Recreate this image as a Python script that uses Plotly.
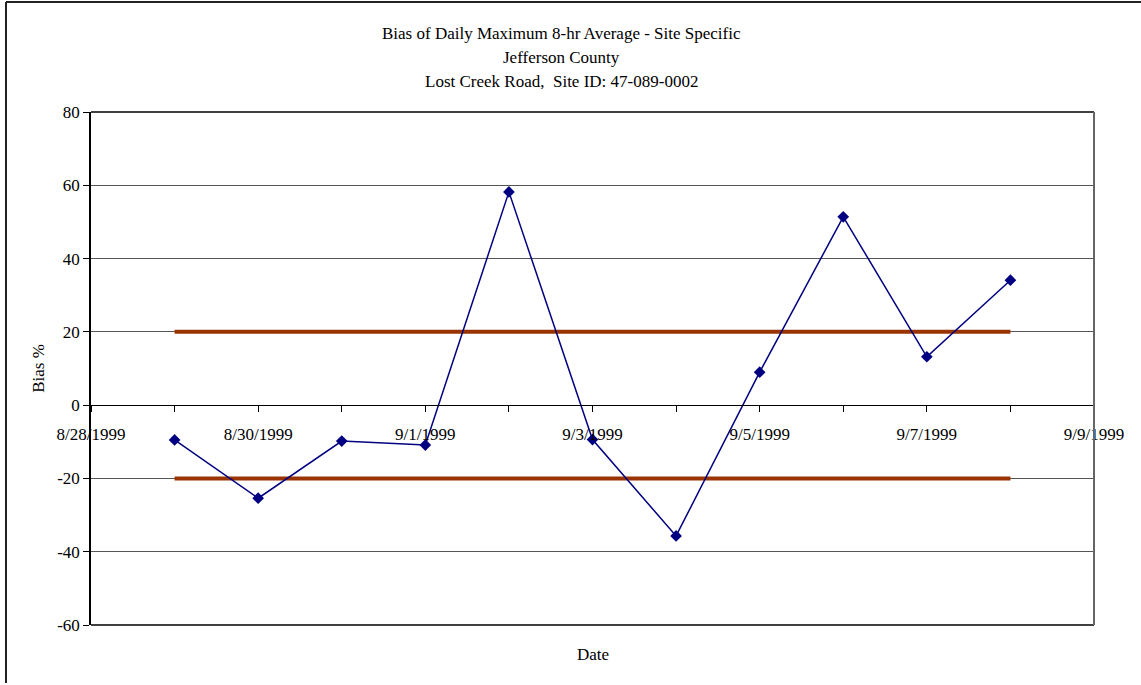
import plotly.graph_objects as go

# Daily bias of the maximum 8-hr average ozone, Lost Creek Road
dates = ["1999-08-29", "1999-08-30", "1999-08-31", "1999-09-01", "1999-09-02",
         "1999-09-03", "1999-09-04", "1999-09-05", "1999-09-06", "1999-09-07",
         "1999-09-08"]
bias = [-9.5, -25.4, -9.8, -10.9, 58.2, -9.4, -35.7, 9.0, 51.4, 13.2, 34.1]

# Acceptance limits (+/- 20 %)
limit_dates = ["1999-08-29", "1999-09-08"]
upper_limit = [20, 20]
lower_limit = [-20, -20]

y_ticks = [-60, -40, -20, 0, 20, 40, 60, 80]
y_tick_labels = ["-60", "-40", "-20", "0", "20", "40", "60", "80"]

title_lines = ["Bias of Daily Maximum 8-hr Average - Site Specific",
               "Jefferson County",
               "Lost Creek Road,  Site ID: 47-089-0002"]

FONT = "Liberation Serif, Times New Roman, serif"
FS = 17
W, H = 1141, 685
L, R, T, B = 91, 47, 112, 60

fig = go.Figure()

fig.add_trace(go.Scatter(x=limit_dates, y=upper_limit, mode="lines",
                         line=dict(color="#993300", width=4), showlegend=False))
fig.add_trace(go.Scatter(x=limit_dates, y=lower_limit, mode="lines",
                         line=dict(color="#993300", width=4), showlegend=False))
fig.add_trace(go.Scatter(x=dates, y=bias, mode="lines+markers",
                         line=dict(color="#000080", width=1.5),
                         marker=dict(symbol="diamond", size=9, color="#000080"),
                         showlegend=False))

ymin, ymax = -60, 80
zero_pos = (0 - ymin) / (ymax - ymin)

fig.update_layout(
    width=W, height=H,
    margin=dict(l=L, r=R, t=T, b=B),
    paper_bgcolor="white", plot_bgcolor="white",
    font=dict(family=FONT, size=FS, color="black"),
    xaxis=dict(
        type="date",
        range=["1999-08-28", "1999-09-09"],
        tick0="1999-08-28", dtick=2 * 86400000,
        tickformat="%-m/%-d/%Y",
        ticks="outside", ticklen=6, tickcolor="black",
        minor=dict(dtick=86400000, ticks="outside", ticklen=6, tickcolor="black"),
        showgrid=False, zeroline=False,
        showline=True, linecolor="black", linewidth=1,
        anchor="free", position=zero_pos,
        tickfont=dict(family=FONT, size=FS),
        ticklabelstandoff=7,
    ),
    yaxis=dict(
        range=[ymin, ymax],
        tickvals=y_ticks, ticktext=y_tick_labels,
        ticks="outside", ticklen=6, tickcolor="black",
        showgrid=True, gridcolor="#555555", gridwidth=1,
        zeroline=False,
        showline=True, linecolor="black", linewidth=1.5,
        tickfont=dict(family=FONT, size=FS),
        title=dict(text="Bias %", font=dict(family=FONT, size=FS), standoff=8),
    ),
    shapes=[
        # plot area frame
        dict(type="line", xref="paper", yref="paper", x0=0, x1=1, y0=1, y1=1,
             line=dict(color="black", width=1.5)),
        dict(type="line", xref="paper", yref="paper", x0=0, x1=1, y0=0, y1=0,
             line=dict(color="black", width=1.5)),
        dict(type="line", xref="paper", yref="paper", x0=1, x1=1, y0=0, y1=1,
             line=dict(color="#666666", width=2)),
        # chart frame (left and top edges)
        dict(type="line", xref="paper", yref="paper",
             x0=-(L - 6) / (W - L - R), x1=-(L - 6) / (W - L - R),
             y0=-(H - T - 2) / (H - T - B) + 1, y1=1 + (T - 2) / (H - T - B),
             line=dict(color="#222222", width=2)),
        dict(type="line", xref="paper", yref="paper",
             x0=-(L - 6) / (W - L - R), x1=1 + R / (W - L - R),
             y0=1 + (T - 2) / (H - T - B), y1=1 + (T - 2) / (H - T - B),
             line=dict(color="#222222", width=2)),
    ],
)

# Title block and x-axis title
title_x = (561 - L) / (W - L - R)
for line, ypix in zip(title_lines, [33, 57, 81]):
    fig.add_annotation(text=line, xref="paper", yref="paper",
                       x=title_x, y=1 + (T - ypix) / (H - T - B),
                       showarrow=False, xanchor="center", yanchor="middle",
                       font=dict(family=FONT, size=FS))

fig.add_annotation(text="Date", xref="paper", yref="paper",
                   x=0.5, y=-(655 - (H - B)) / (H - T - B),
                   showarrow=False, xanchor="center", yanchor="middle",
                   font=dict(family=FONT, size=FS))

fig.write_html("out.html")
